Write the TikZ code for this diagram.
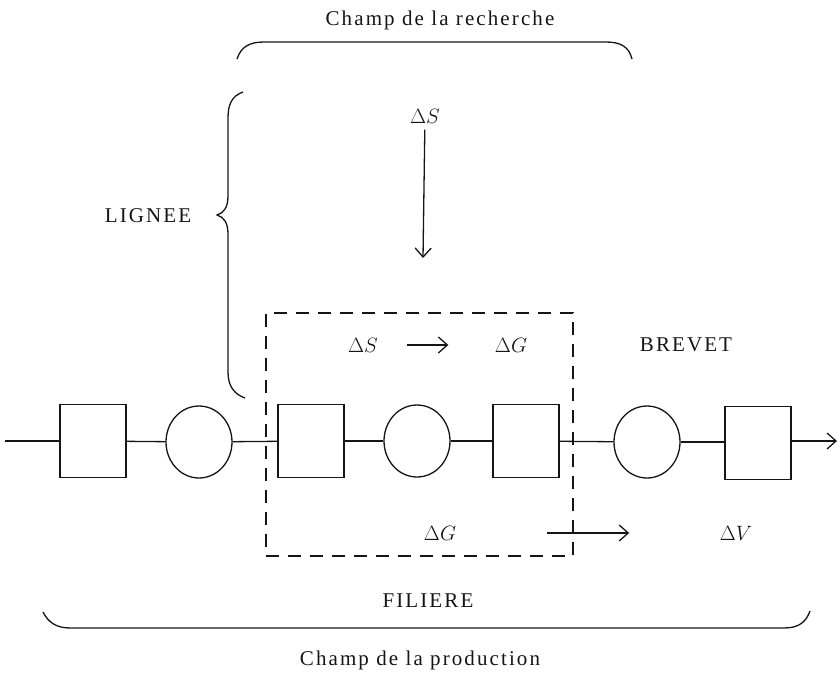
\documentclass[tikz,border=0pt]{standalone}
\usepackage{fontspec}
\setmainfont[LetterSpace=10]{Liberation Serif}
\usepackage{tikz}
\usetikzlibrary{arrows.meta, shapes.geometric}
\definecolor{cink}{HTML}{151515}

\begin{document}
\begin{tikzpicture}[
  x=1pt, y=-1pt,
  font=\fontsize{21}{25}\selectfont,
  line width=1.3pt, draw=cink, text=cink,
  blok/.style={draw=cink, rectangle, minimum width=66pt, minimum height=73pt, inner sep=0pt},
  ring/.style={draw=cink, ellipse, minimum width=66pt, minimum height=72pt, inner sep=0pt},
  frame/.style={draw=cink, dash pattern=on 13pt off 9pt, minimum width=307pt, minimum height=243pt,
                inner sep=0pt},
  lbl/.style={text=cink, inner sep=2pt},
  flow/.style={-{Straight Barb[length=9pt,width=16pt]}, draw=cink, line width=1.3pt},
  link/.style={draw=cink, line width=1.3pt}
]
\useasboundingbox (0,0) rectangle (839,675);
% chaine de la filiere
\coordinate (in) at (5,441);
\node[blok] (s1) at (93,441)  {};
\node[ring] (c1) at (199,442) {};
\node[blok] (s2) at (311,441) {};
\node[ring] (c2) at (417,441) {};
\node[blok] (s3) at (526,441) {};
\node[ring] (c3) at (647,442) {};
\node[blok] (s4) at (758,443) {};
\coordinate (out) at (837,441);
\draw[link] (in) -- (s1);
\draw[link] (s1) -- (c1);
\draw[link] (c1) -- (s2);
\draw[link] (s2) -- (c2);
\draw[link] (c2) -- (s3);
\draw[link] (s3) -- (c3);
\draw[link] (c3) -- (c3 -| s4.west);
\draw[flow] (s4.east |- out) -- (out);
\node[frame] (zone) at (419.5,434.5) {};
% textes
\node[lbl] (rech)  at (440,20)  {Champ de la recherche};
\node[lbl] (lign)  at (148,216) {LIGNEE};
\node[lbl] (dstop) at (425,116) {$\Delta S$};
\coordinate (dsend) at (423,258);
\draw[flow, shorten <=4pt] (dstop) -- (dsend);
\node[lbl] (ds)    at (363,345) {$\Delta S$};
\node[lbl] (dg)    at (511,345) {$\Delta G$};
\draw[flow, shorten <=26pt, shorten >=44pt] (ds) -- (dg);
\node[lbl] (brev)  at (686,345) {BREVET};
\node[lbl] (dgb)   at (440,533) {$\Delta G$};
\node[lbl] (dv)    at (736,533) {$\Delta V$};
\draw[flow, shorten <=88pt, shorten >=88pt] (dgb) -- (dv);
\node[lbl] (fil)   at (428,601) {FILIERE};
\node[lbl] (prod)  at (420,660) {Champ de la production};
% accolades
\draw[link] (237,59) .. controls (241,47) and (249,42) .. (264,42) -- (606,42)
  .. controls (621,42) and (629,47) .. (632,59);
\draw[link] (243,92) .. controls (232,96) and (228,104) .. (228,118) -- (228,196)
  .. controls (228,207) and (224,213) .. (217,215)
  .. controls (224,217) and (228,223) .. (228,234) -- (228,372)
  .. controls (228,386) and (234,394) .. (245,398);
\draw[link] (43,612) .. controls (48,622) and (56,628) .. (70,628) -- (784,628)
  .. controls (799,628) and (806,622) .. (810,611);
\end{tikzpicture}
\end{document}
